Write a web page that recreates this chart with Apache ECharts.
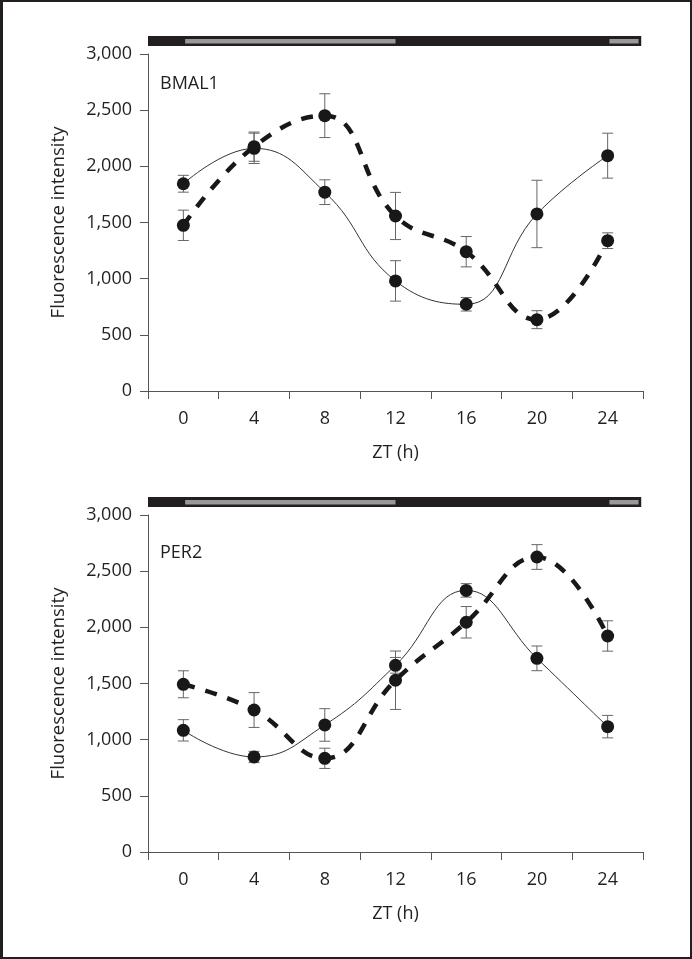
<!DOCTYPE html>
<html>
<head>
<meta charset="utf-8">
<script src="https://cdn.jsdelivr.net/npm/echarts@6/dist/echarts.min.js"></script>
<style>
html,body{margin:0;padding:0;background:#fff;}
#frame{position:absolute;left:0;top:0;width:692px;height:959px;box-sizing:border-box;border:2px solid #231f20;border-left-width:3px;}
#chart{position:absolute;left:0;top:0;width:692px;height:959px;}
</style>
</head>
<body>
<div id="frame"></div>
<div id="chart"></div>
<script>
// ---- data ----
const ztLabels = ['0', '4', '8', '12', '16', '20', '24'];
const yTicks = [0, 500, 1000, 1500, 2000, 2500, 3000];

// BMAL1 panel
const bmalSolid = [1845, 2160, 1770, 980, 772, 1576, 2095];
const bmalSolidErr = [75, 135, 110, 180, 60, 300, 200];
const bmalDashed = [1475, 2175, 2451, 1558, 1240, 635, 1338];
const bmalDashedErr = [135, 130, 195, 210, 135, 80, 70];

// PER2 panel
const perSolid = [1083, 846, 1131, 1662, 2329, 1724, 1116];
const perSolidErr = [95, 50, 145, 70, 60, 110, 100];
const perDashed = [1493, 1264, 834, 1529, 2045, 2626, 1923];
const perDashedErr = [120, 155, 90, 260, 140, 110, 135];

// light/dark bar (ZT hours): dark span and light periods
const darkSpan = [-2, 25.9];
const lightPeriods = [[0.1, 12], [24.1, 25.75]];

const panelNames = ['BMAL1', 'PER2'];

// ---- chart ----
const chart = echarts.init(document.getElementById('chart'));
const FONT = '"Open Sans", "Noto Sans", sans-serif';
const axisColor = '#555';
const textColor = '#231f20';
const grids = [
  {left: 148, top: 54, width: 495, height: 337},
  {left: 148, top: 515, width: 495, height: 337}
];

function errData(vals, errs) {
  return vals.map((v, i) => [i, v - errs[i], v + errs[i]]);
}

function errRender(params, api) {
  const x = api.value(0);
  const lo = api.coord([x, api.value(1)]);
  const hi = api.coord([x, api.value(2)]);
  const hw = 5.5;
  const st = {stroke: '#666', lineWidth: 1};
  return {
    type: 'group',
    children: [
      {type: 'line', shape: {x1: lo[0], y1: lo[1], x2: hi[0], y2: hi[1]}, style: st},
      {type: 'line', shape: {x1: lo[0] - hw, y1: lo[1], x2: lo[0] + hw, y2: lo[1]}, style: st},
      {type: 'line', shape: {x1: hi[0] - hw, y1: hi[1], x2: hi[0] + hw, y2: hi[1]}, style: st}
    ]
  };
}

function barRender(params, api) {
  const cs = params.coordSys;
  const kind = api.value(2);
  const a = api.coord([api.value(0), 0]);
  const b = api.coord([api.value(1), 0]);
  const top = cs.y - 18;
  if (kind === 0) {
    return {type: 'rect', shape: {x: a[0], y: top, width: b[0] - a[0], height: 10},
      style: {fill: '#231f20'}};
  }
  return {type: 'rect', shape: {x: a[0], y: top + 3, width: b[0] - a[0], height: 4.5},
    style: {fill: '#999999'}};
}

const barData = [[darkSpan[0], darkSpan[1], 0]].concat(lightPeriods.map(p => [p[0], p[1], 1]));

const xAxes = [], yAxes = [], series = [], titles = [];
const solids = [bmalSolid, perSolid], solidErrs = [bmalSolidErr, perSolidErr];
const dasheds = [bmalDashed, perDashed], dashedErrs = [bmalDashedErr, perDashedErr];
const titleTops = [75, 544];

for (let g = 0; g < 2; g++) {
  xAxes.push({
    type: 'category', gridIndex: g, data: ztLabels, boundaryGap: true,
    name: 'ZT (h)', nameLocation: 'middle', nameGap: 53,
    nameTextStyle: {fontFamily: FONT, fontSize: 18, color: textColor},
    axisLine: {onZero: false, lineStyle: {color: axisColor, width: 1}},
    axisTick: {show: true, length: 8, lineStyle: {color: axisColor}},
    axisLabel: {fontFamily: FONT, fontSize: 18, color: textColor, margin: 19},
    splitLine: {show: false}
  });
  xAxes.push({
    type: 'value', gridIndex: g, min: -2, max: 26, show: false
  });
  yAxes.push({
    type: 'value', gridIndex: g, min: yTicks[0], max: yTicks[yTicks.length - 1], interval: 500,
    name: 'Fluorescence intensity', nameLocation: 'middle', nameGap: 80,
    nameTextStyle: {fontFamily: FONT, fontSize: 18.5, color: textColor},
    axisLine: {show: true, onZero: false, lineStyle: {color: axisColor, width: 1}},
    axisTick: {show: true, length: 8, lineStyle: {color: axisColor}},
    axisLabel: {fontFamily: FONT, fontSize: 18, color: textColor, margin: 16,
      formatter: v => v.toLocaleString('en-US')},
    splitLine: {show: false}
  });
  titles.push({
    text: panelNames[g], left: 160, top: titleTops[g], padding: 0,
    textStyle: {fontFamily: FONT, fontSize: 18, fontWeight: 'normal', color: textColor}
  });
  const xc = g * 2, xv = g * 2 + 1;
  series.push({
    type: 'custom', xAxisIndex: xv, yAxisIndex: g, renderItem: barRender,
    data: barData, clip: false, silent: true, z: 1
  });
  series.push({
    type: 'custom', xAxisIndex: xc, yAxisIndex: g, renderItem: errRender,
    data: errData(solids[g], solidErrs[g]), silent: true, z: 2
  });
  series.push({
    type: 'custom', xAxisIndex: xc, yAxisIndex: g, renderItem: errRender,
    data: errData(dasheds[g], dashedErrs[g]), silent: true, z: 2
  });
  series.push({
    type: 'line', xAxisIndex: xc, yAxisIndex: g, data: solids[g], smooth: 0.45,
    symbol: 'circle', symbolSize: 13, itemStyle: {color: '#1a1718'},
    lineStyle: {color: '#333', width: 1}, z: 3, silent: true
  });
  series.push({
    type: 'line', xAxisIndex: xc, yAxisIndex: g, data: dasheds[g], smooth: 0.45,
    symbol: 'circle', symbolSize: 13, itemStyle: {color: '#1a1718'},
    lineStyle: {color: '#1a1718', width: 4.5, type: [12, 11]}, z: 4, silent: true
  });
}

chart.setOption({
  animation: false,
  backgroundColor: 'transparent',
  title: titles,
  grid: grids,
  xAxis: xAxes,
  yAxis: yAxes,
  series: series
});
</script>
</body>
</html>
